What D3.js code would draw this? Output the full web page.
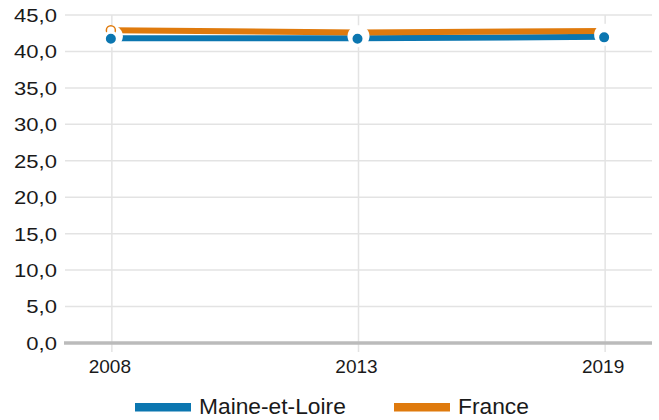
<!DOCTYPE html>
<html>
<head>
<meta charset="utf-8">
<script src="https://cdn.jsdelivr.net/npm/d3@7"></script>
<style>
  body { margin: 0; background: #fff; }
  text { font-family: "Liberation Sans", Arial, sans-serif; fill: #1a1a1a; }
</style>
</head>
<body>
<svg class="chart"></svg>
<script>
var years = ["2008", "2013", "2019"];
var maine = [41.8, 41.8, 42.0];
var france = [42.9, 42.6, 42.8];
var yTicks = [0, 5, 10, 15, 20, 25, 30, 35, 40, 45];
var seriesNames = ["Maine-et-Loire", "France"];
var colors = ["#0b76b0", "#df7a0d"];

var svg = d3.select(".chart")
    .attr("width", 659)
    .attr("height", 420);

var x = d3.scalePoint().domain(years).range([65, 652]).padding(0.19);
var y = d3.scaleLinear().domain([0, 45]).range([343, 15]);

// horizontal grid
svg.selectAll(".hgrid").data(yTicks.slice(1))
  .enter().append("line")
    .attr("class", "hgrid")
    .attr("x1", 65).attr("x2", 652)
    .attr("y1", function(d) { return y(d); })
    .attr("y2", function(d) { return y(d); })
    .attr("stroke", "#e3e3e3")
    .attr("stroke-width", 1.5);

// vertical grid
svg.selectAll(".vgrid").data(years)
  .enter().append("line")
    .attr("class", "vgrid")
    .attr("x1", function(d) { return x(d); })
    .attr("x2", function(d) { return x(d); })
    .attr("y1", 15).attr("y2", 352)
    .attr("stroke", "#e3e3e3")
    .attr("stroke-width", 1.5);

// baseline
svg.append("line")
    .attr("x1", 64).attr("x2", 652)
    .attr("y1", y(0)).attr("y2", y(0))
    .attr("stroke", "#bbbbbb")
    .attr("stroke-width", 3.5);

// y labels (slightly wide, like the reference)
svg.selectAll(".ylab").data(yTicks)
  .enter().append("text")
    .attr("class", "ylab")
    .attr("transform", function(d) { return "translate(57," + y(d) + ") scale(1.16,1)"; })
    .attr("dy", "0.36em")
    .attr("text-anchor", "end")
    .attr("font-size", 19)
    .text(function(d) { return d3.format(".1f")(d).replace(".", ","); });

// x labels
svg.selectAll(".xlab").data(years)
  .enter().append("text")
    .attr("class", "xlab")
    .attr("x", function(d) { return x(d) - 2; })
    .attr("y", 373)
    .attr("text-anchor", "middle")
    .attr("font-size", 19)
    .text(function(d) { return d; });

// lines
var line = d3.line()
    .x(function(d, i) { return x(years[i]); })
    .y(function(d) { return y(d); });

svg.append("path").datum(maine)
    .attr("d", line)
    .attr("fill", "none")
    .attr("stroke", colors[0])
    .attr("stroke-width", 6);

svg.append("path").datum(france)
    .attr("d", line)
    .attr("fill", "none")
    .attr("stroke", colors[1])
    .attr("stroke-width", 6);

// white halos around points
svg.selectAll(".halo").data(maine)
  .enter().append("circle")
    .attr("class", "halo")
    .attr("cx", function(d, i) { return x(years[i]); })
    .attr("cy", function(d) { return y(d) - 2; })
    .attr("r", 11)
    .attr("fill", "#fff");

// france marker (only the first one shows)
svg.append("circle")
    .attr("cx", x(years[0]) - 1)
    .attr("cy", y(france[0]))
    .attr("r", 4.5)
    .attr("fill", "#fff")
    .attr("stroke", colors[1])
    .attr("stroke-width", 1.5);

svg.selectAll(".dot").data(maine)
  .enter().append("circle")
    .attr("class", "dot")
    .attr("cx", function(d, i) { return x(years[i]) - 1; })
    .attr("cy", function(d) { return y(d) + 0.5; })
    .attr("r", 6.5)
    .attr("fill", colors[0])
    .attr("stroke", "#fff")
    .attr("stroke-width", 3);

// legend
var legX = [135, 394];
var leg = svg.selectAll(".leg").data(seriesNames)
  .enter().append("g")
    .attr("class", "leg")
    .attr("transform", function(d, i) { return "translate(" + legX[i] + ",0)"; });

leg.append("rect")
    .attr("x", 0).attr("y", 403)
    .attr("width", 56).attr("height", 8.5)
    .attr("fill", function(d, i) { return colors[i]; });

leg.append("text")
    .attr("transform", "translate(64,414) scale(1.06,1)")
    .attr("font-size", 21.5)
    .text(function(d) { return d; });
</script>
</body>
</html>
